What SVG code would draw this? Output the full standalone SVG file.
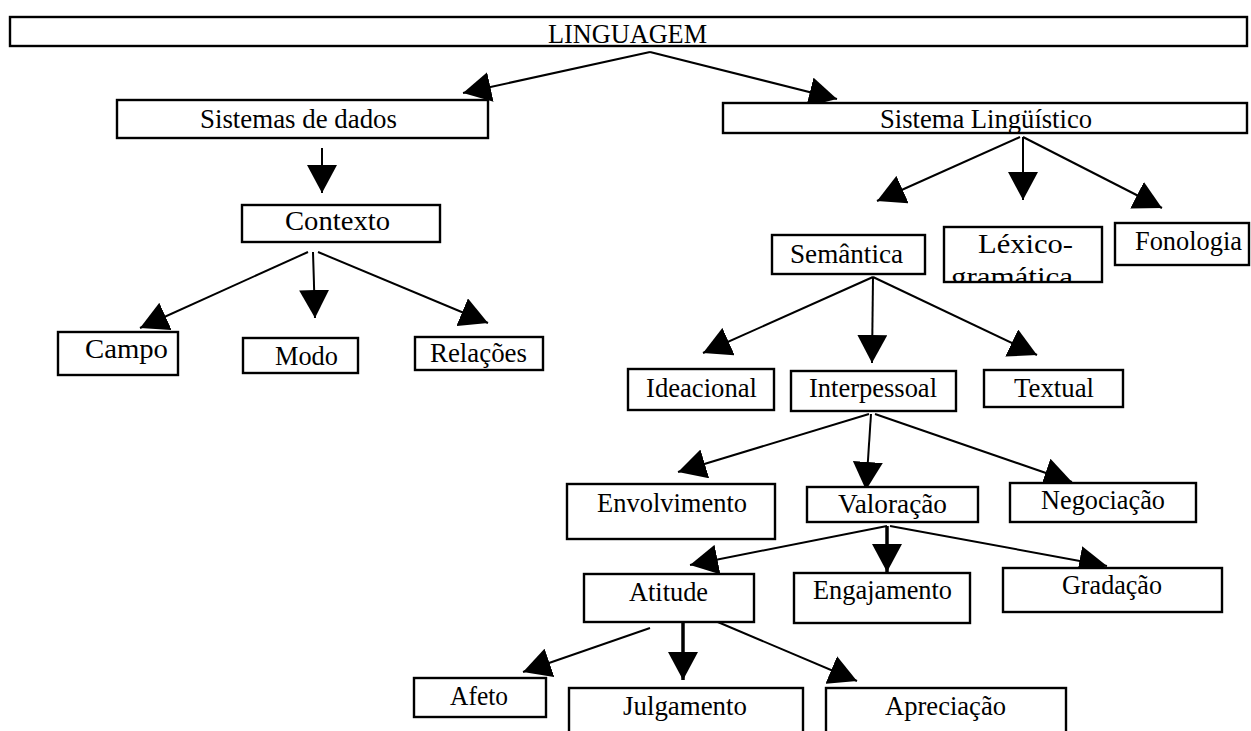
<svg xmlns="http://www.w3.org/2000/svg" width="1251" height="731" viewBox="0 0 1251 731">
<defs>
<marker id="ah" markerUnits="userSpaceOnUse" markerWidth="28" markerHeight="30" refX="28" refY="15" orient="auto" viewBox="0 0 28 30">
<path d="M0,0 L28,15 L0,30 z" fill="#000"/>
</marker>
<clipPath id="lexclip"><rect x="944" y="227" width="158" height="55"/></clipPath>
<style>
.box{fill:#fff;stroke:#000;stroke-width:2.4}
.lbl{font-family:"Liberation Serif","Times New Roman",serif;font-size:26.5px;fill:#000}
.ln{stroke:#000;stroke-width:2;fill:none;marker-end:url(#ah)}
.thk{stroke-width:3.5}
</style>
</defs>
<rect width="1251" height="731" fill="#fff"/>

<g id="connectors">
<line class="ln" x1="650" y1="52" x2="463" y2="93"/>
<line class="ln" x1="650" y1="52" x2="837" y2="99"/>
<line class="ln" x1="322" y1="148" x2="322" y2="193"/>
<line class="ln" x1="308" y1="252" x2="140" y2="328"/>
<line class="ln" x1="313" y1="252" x2="315" y2="318"/>
<line class="ln" x1="318" y1="252" x2="488" y2="323"/>
<line class="ln" x1="1020" y1="137" x2="877" y2="201"/>
<line class="ln" x1="1023" y1="137" x2="1023" y2="200"/>
<line class="ln" x1="1023" y1="137" x2="1162" y2="208"/>
<line class="ln" x1="873" y1="277" x2="703" y2="353"/>
<line class="ln" x1="873" y1="277" x2="872" y2="363"/>
<line class="ln" x1="873" y1="277" x2="1037" y2="355"/>
<line class="ln" x1="869" y1="414" x2="678" y2="472"/>
<line class="ln" x1="871" y1="414" x2="866" y2="490"/>
<line class="ln" x1="875" y1="414" x2="1072" y2="482"/>
<line class="ln" x1="887" y1="526" x2="690" y2="565"/>
<line class="ln thk" x1="887" y1="526" x2="887" y2="572"/>
<line class="ln" x1="890" y1="526" x2="1107" y2="566"/>
<line class="ln" x1="650" y1="628" x2="523" y2="672"/>
<line class="ln thk" x1="683" y1="617" x2="683" y2="680"/>
<line class="ln" x1="706" y1="617" x2="857" y2="681"/>
</g>

<g id="linguagem"><rect class="box" x="10" y="17" width="1237" height="29"/><text class="lbl" x="548" y="43" textLength="159" lengthAdjust="spacingAndGlyphs">LINGUAGEM</text></g>
<g id="sistemas-de-dados"><rect class="box" x="117" y="100" width="371" height="38"/><text class="lbl" x="200" y="128" textLength="197" lengthAdjust="spacingAndGlyphs">Sistemas de dados</text></g>
<g id="sistema-linguistico"><rect class="box" x="723" y="103" width="524" height="30"/><text class="lbl" x="880" y="128" textLength="212" lengthAdjust="spacingAndGlyphs">Sistema Lingüístico</text></g>
<g id="contexto"><rect class="box" x="242" y="205" width="198" height="37"/><text class="lbl" x="285" y="230" textLength="105" lengthAdjust="spacingAndGlyphs">Contexto</text></g>
<g id="campo"><rect class="box" x="58" y="332" width="120" height="43"/><text class="lbl" x="85" y="358" textLength="83" lengthAdjust="spacingAndGlyphs">Campo</text></g>
<g id="modo"><rect class="box" x="243" y="338" width="115" height="35"/><text class="lbl" x="275" y="365" textLength="63" lengthAdjust="spacingAndGlyphs">Modo</text></g>
<g id="relacoes"><rect class="box" x="415" y="337" width="128" height="33"/><text class="lbl" x="430" y="362" textLength="97" lengthAdjust="spacingAndGlyphs">Relações</text></g>
<g id="semantica"><rect class="box" x="772" y="235" width="153" height="39"/><text class="lbl" x="790" y="263" textLength="113" lengthAdjust="spacingAndGlyphs">Semântica</text></g>
<g id="lexico-gramatica"><text class="lbl" x="978" y="253" textLength="95" lengthAdjust="spacingAndGlyphs">Léxico-</text><text class="lbl" x="951" y="286" textLength="122" lengthAdjust="spacingAndGlyphs" clip-path="url(#lexclip)">gramática</text><rect x="944" y="227" width="158" height="55" fill="none" stroke="#000" stroke-width="2.4"/></g>
<g id="fonologia"><rect class="box" x="1115" y="223" width="134" height="42"/><text class="lbl" x="1135" y="250" textLength="107" lengthAdjust="spacingAndGlyphs">Fonologia</text></g>
<g id="ideacional"><rect class="box" x="628" y="369" width="146" height="41"/><text class="lbl" x="646" y="397" textLength="111" lengthAdjust="spacingAndGlyphs">Ideacional</text></g>
<g id="interpessoal"><rect class="box" x="791" y="371" width="165" height="40"/><text class="lbl" x="809" y="397" textLength="128" lengthAdjust="spacingAndGlyphs">Interpessoal</text></g>
<g id="textual"><rect class="box" x="984" y="370" width="139" height="37"/><text class="lbl" x="1014" y="397" textLength="80" lengthAdjust="spacingAndGlyphs">Textual</text></g>
<g id="envolvimento"><rect class="box" x="567" y="484" width="208" height="55"/><text class="lbl" x="597" y="512" textLength="150" lengthAdjust="spacingAndGlyphs">Envolvimento</text></g>
<g id="valoracao"><rect class="box" x="807" y="487" width="171" height="35"/><text class="lbl" x="838" y="513" textLength="109" lengthAdjust="spacingAndGlyphs">Valoração</text></g>
<g id="negociacao"><rect class="box" x="1010" y="483" width="186" height="39"/><text class="lbl" x="1041" y="509" textLength="124" lengthAdjust="spacingAndGlyphs">Negociação</text></g>
<g id="atitude"><rect class="box" x="584" y="574" width="170" height="48"/><text class="lbl" x="629" y="601" textLength="79" lengthAdjust="spacingAndGlyphs">Atitude</text></g>
<g id="engajamento"><rect class="box" x="794" y="573" width="176" height="50"/><text class="lbl" x="813" y="599" textLength="139" lengthAdjust="spacingAndGlyphs">Engajamento</text></g>
<g id="gradacao"><rect class="box" x="1003" y="568" width="219" height="44"/><text class="lbl" x="1062" y="594" textLength="100" lengthAdjust="spacingAndGlyphs">Gradação</text></g>
<g id="afeto"><rect class="box" x="414" y="678" width="132" height="39"/><text class="lbl" x="450" y="705" textLength="58" lengthAdjust="spacingAndGlyphs">Afeto</text></g>
<g id="julgamento"><rect class="box" x="569" y="688" width="234" height="60"/><text class="lbl" x="623" y="715" textLength="124" lengthAdjust="spacingAndGlyphs">Julgamento</text></g>
<g id="apreciacao"><rect class="box" x="826" y="688" width="240" height="60"/><text class="lbl" x="885" y="715" textLength="121" lengthAdjust="spacingAndGlyphs">Apreciação</text></g>
</svg>
